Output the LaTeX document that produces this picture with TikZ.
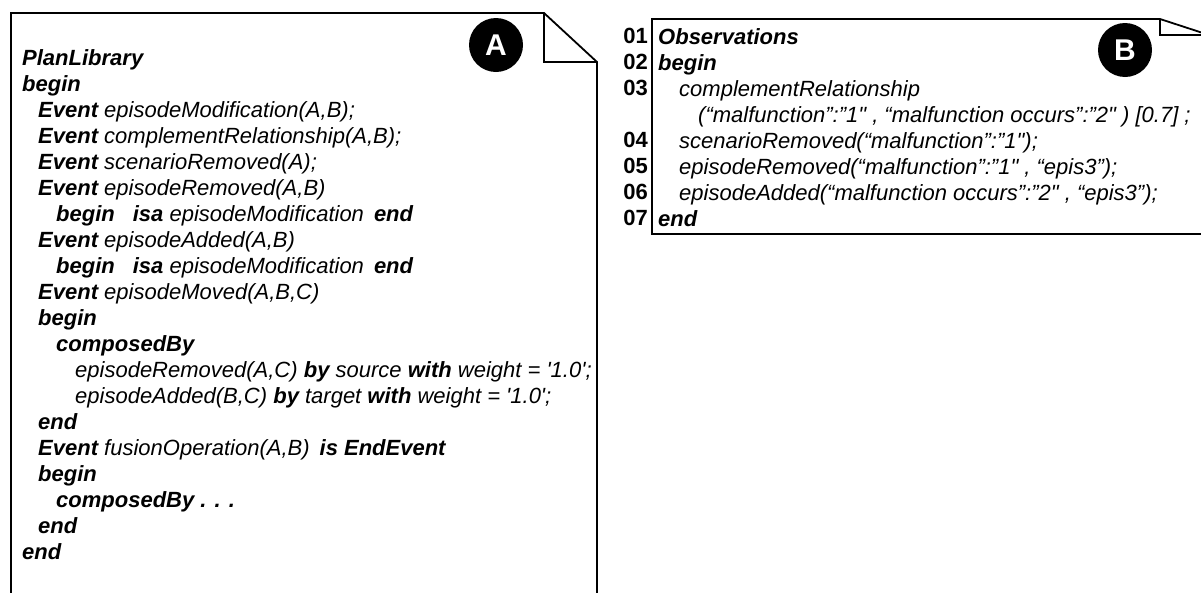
\documentclass[tikz,border=0pt]{standalone}
\usepackage{fontspec}
\setmainfont{Liberation Sans}
\newcommand{\kw}[1]{\textbf{#1}}
\newcommand{\sq}{\textquotesingle}
\newcommand{\dq}{\textquotedbl}
\tikzset{
  doc/.style={line width=1.8pt, line join=miter},
  code/.style={anchor=north west, inner sep=0pt, align=left,
    font=\fontsize{22}{26}\selectfont\itshape},
  lineno/.style={anchor=north east, inner sep=0pt, align=right,
    font=\fontsize{22}{26}\selectfont\bfseries},
  badge/.style={circle, fill=black, text=white, minimum size=54pt,
    inner sep=0pt, font=\fontsize{30}{30}\selectfont\bfseries}
}
\begin{document}
\begin{tikzpicture}[x=1pt, y=-1pt]
    \useasboundingbox (0,0) rectangle (1201,592);
    \clip (0,0) rectangle (1201,592);

    % Plan library sheet
    \draw[doc] (11,600) -- (11,13) -- (544,13) -- (597,62) -- (597,600);
    \draw[doc] (544,13) -- (544,62) -- (597,62);
    \node[badge] (markA) at (496,45) {A};

    \node[code] (plan) at (22,49) {\kw{PlanLibrary}\\
      \kw{begin}\\
      \hspace*{16pt}\kw{Event} episodeModification(A,B);\\
      \hspace*{16pt}\kw{Event} complementRelationship(A,B);\\
      \hspace*{16pt}\kw{Event} scenarioRemoved(A);\\
      \hspace*{16pt}\kw{Event} episodeRemoved(A,B)\\
      \hspace*{34pt}\kw{begin}\hspace{18pt}\kw{isa} episodeModification\hspace{10pt}\kw{end}\\
      \hspace*{16pt}\kw{Event} episodeAdded(A,B)\\
      \hspace*{34pt}\kw{begin}\hspace{18pt}\kw{isa} episodeModification\hspace{10pt}\kw{end}\\
      \hspace*{16pt}\kw{Event} episodeMoved(A,B,C)\\
      \hspace*{16pt}\kw{begin}\\
      \hspace*{34pt}\kw{composedBy}\\
      \hspace*{53pt}episodeRemoved(A,C) \kw{by} source \kw{with} weight = \sq1.0\sq;\\
      \hspace*{53pt}episodeAdded(B,C) \kw{by} target \kw{with} weight = \sq1.0\sq;\\
      \hspace*{16pt}\kw{end}\\
      \hspace*{16pt}\kw{Event} fusionOperation(A,B)\hspace{10pt}\kw{is EndEvent}\\
      \hspace*{16pt}\kw{begin}\\
      \hspace*{34pt}\kw{composedBy . . .}\\
      \hspace*{16pt}\kw{end}\\
      \kw{end}};

    % Observations sheet
    \draw[doc] (1215,234) -- (652,234) -- (652,19) -- (1160,19) -- (1209,35) -- (1209,240);
    \draw[doc] (1160,19) -- (1160,35) -- (1209,35);
    \node[badge] (markB) at (1125,50) {B};

    \node[lineno] (nums) at (648,28) {01\\02\\03\\[26pt]04\\05\\06\\07};
    \node[code] (obs) at (658,28) {\kw{Observations}\\
      \kw{begin}\\
      \hspace*{21pt}complementRelationship\\
      \hspace*{40pt}(“malfunction”:”1\dq{} , “malfunction occurs”:”2\dq{} ) [0.7] ;\\
      \hspace*{21pt}scenarioRemoved(“malfunction”:”1\dq);\\
      \hspace*{21pt}episodeRemoved(“malfunction”:”1\dq{} , “epis3”);\\
      \hspace*{21pt}episodeAdded(“malfunction occurs”:”2\dq{} , “epis3”);\\
      \kw{end}};
\end{tikzpicture}
\end{document}
